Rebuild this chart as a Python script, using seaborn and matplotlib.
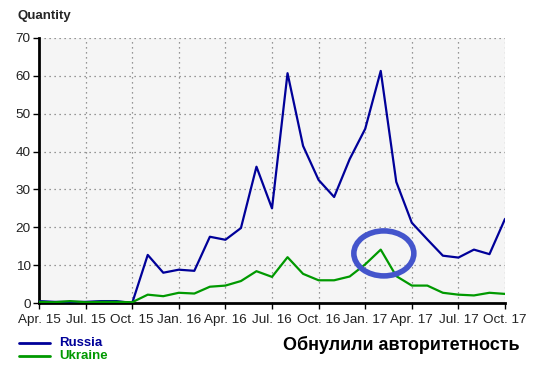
import matplotlib
matplotlib.use("Agg")
import matplotlib.pyplot as plt
from matplotlib.patches import Ellipse
from matplotlib.lines import Line2D
import seaborn as sns
import pandas as pd

months = ["2015-04", "2015-05", "2015-06", "2015-07", "2015-08", "2015-09", "2015-10", "2015-11", "2015-12",
          "2016-01", "2016-02", "2016-03", "2016-04", "2016-05", "2016-06", "2016-07", "2016-08", "2016-09",
          "2016-10", "2016-11", "2016-12", "2017-01", "2017-02", "2017-03", "2017-04", "2017-05", "2017-06",
          "2017-07", "2017-08", "2017-09", "2017-10"]
russia = [0.5, 0.3, 0.3, 0.3, 0.5, 0.5, 0.0, 12.7, 8.0, 8.8, 8.5, 17.5, 16.7, 19.8, 36.0, 25.0, 60.7, 41.5,
          32.5, 28.0, 38.0, 46.0, 61.3, 32.0, 21.2, 16.8, 12.5, 12.0, 14.1, 12.9, 22.2]
ukraine = [0.3, 0.2, 0.5, 0.2, 0.3, 0.3, 0.2, 2.2, 1.8, 2.7, 2.5, 4.3, 4.6, 5.8, 8.4, 6.9, 12.1, 7.7,
           6.0, 6.0, 7.0, 10.2, 14.1, 7.1, 4.6, 4.6, 2.7, 2.2, 2.0, 2.7, 2.4]
tick_labels = ["Apr. 15", "Jul. 15", "Oct. 15", "Jan. 16", "Apr. 16", "Jul. 16", "Oct. 16",
               "Jan. 17", "Apr. 17", "Jul. 17", "Oct. 17"]
series_names = ["Russia", "Ukraine"]
colors = {"Russia": "#000099", "Ukraine": "#009900"}

df = pd.DataFrame({
    "idx": list(range(len(months))) * 2,
    "value": russia + ukraine,
    "series": ["Russia"] * len(months) + ["Ukraine"] * len(months),
})

sns.set_theme(style="white")
plt.rcParams['font.family'] = ['Liberation Sans', 'DejaVu Sans']

fig = plt.figure(figsize=(5.37, 3.70), dpi=100)
ax = fig.add_axes([39/537, 67/370, 466/537, 265/370])
ax.set_facecolor("#f5f5f5")

sns.lineplot(data=df, x="idx", y="value", hue="series", palette=colors, ax=ax,
             linewidth=1.6, legend=False, zorder=3)

ax.set_xlim(0, len(months) - 1)
ax.set_ylim(0, 70)
ax.set_xticks(range(0, len(months), 3))
ax.set_xticklabels(tick_labels)
ax.set_yticks(range(0, 71, 10))
ax.set_xlabel("")
ax.set_ylabel("")
ax.grid(True, linestyle=(0, (1, 3)), color="#777777", linewidth=0.9)
for s in ["top", "right"]:
    ax.spines[s].set_visible(False)
for s in ["left", "bottom"]:
    ax.spines[s].set_color("black")
    ax.spines[s].set_linewidth(2)
ax.tick_params(axis="both", which="both", direction="out", length=4, width=1, color="black",
               labelsize=9.7, labelcolor="#222222", left=True, bottom=True)
ax.tick_params(axis="x", pad=4)
ax.tick_params(axis="y", pad=2)

# annotation circle around Ukraine peak
ell = Ellipse((22.2, 13.1), width=60/15.53, height=45/3.786, fill=False,
              edgecolor="#4455cc", linewidth=4, zorder=4)
ax.add_patch(ell)

fig.text(17/537, 1 - 16/370, "Quantity", fontsize=9.5, fontweight="bold", va="center", ha="left")

# legend
for i, name in enumerate(series_names):
    y = 1 - (343 + i * 13) / 370
    fig.add_artist(Line2D([19/537, 50/537], [y, y], color=colors[name], linewidth=2))
    fig.text(59/537, y, name, color=colors[name], fontsize=9.5, fontweight="bold", va="center", ha="left")

fig.text(520/537, 1 - 345/370, "Обнулили авторитетность", fontsize=13, fontweight="bold",
         va="center", ha="right", color="black")

fig.savefig("out.png", dpi=100)
